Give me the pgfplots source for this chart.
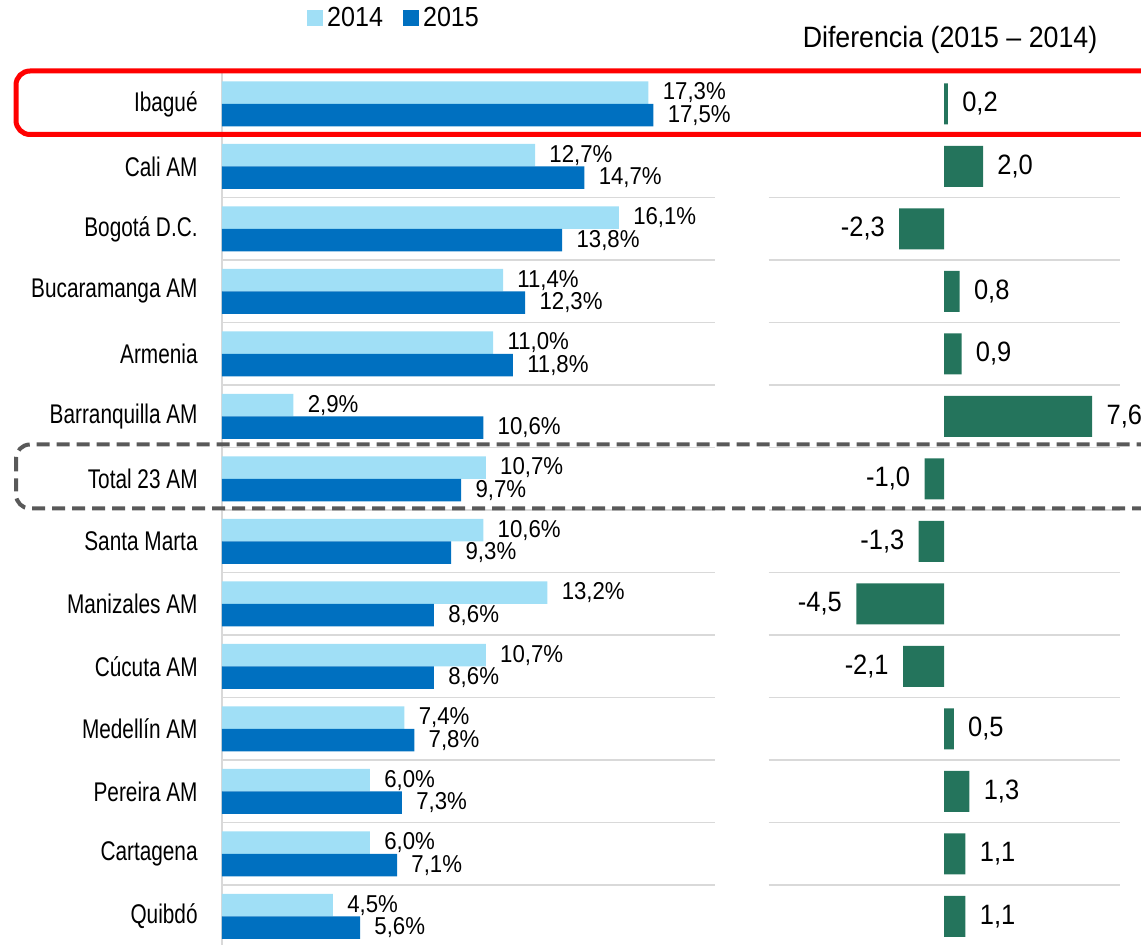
\documentclass[border=0pt]{standalone}
\usepackage{pgfplots}
\pgfplotsset{compat=1.18}
\usepackage{pgfplotstable}
\usepackage{fontspec}
\setmainfont{Liberation Sans}[FakeStretch=0.77]
\newfontfamily\numfont{Liberation Sans}[FakeStretch=0.91]
\definecolor{lb}{HTML}{A0DFF6}
\definecolor{db}{HTML}{0070C0}
\definecolor{gr}{HTML}{24745C}
\definecolor{gridgray}{HTML}{D9D9D9}
\definecolor{dgray}{HTML}{595959}
\newcommand{\fs}{\fontsize{13.5}{16}\selectfont}
\newcommand{\fsl}{\numfont\fontsize{12.2}{14}\selectfont}
\newcommand{\fsr}{\numfont\fontsize{14}{16}\selectfont}
\newcommand{\fst}{\numfont\fontsize{14.7}{17}\selectfont}
\newcommand{\fsg}{\numfont\fontsize{13.8}{16}\selectfont}
\pgfplotstableread{
idx v14 v15
0 17.3 17.5
1 12.7 14.7
2 16.1 13.8
3 11.4 12.3
4 11.0 11.8
5 2.9 10.6
6 10.7 9.7
7 10.6 9.3
8 13.2 8.6
9 10.7 8.6
10 7.4 7.8
11 6.0 7.3
12 6.0 7.1
13 4.5 5.6
}\leftdata
\begin{document}
\begin{tikzpicture}
\begin{axis}[
  at={(111pt,-36.35pt)}, anchor=north west,
  scale only axis, width=246.5pt, height=437.5pt,
  xmin=0, xmax=20, ymin=-0.5, ymax=13.5, y dir=reverse,
  xbar, bar width=11.25pt, bar shift=0pt,
  axis x line=none,
  axis y line*=left,
  y axis line style={draw=gridgray, line width=0.75pt, -},
  ytick={0,...,13},
  yticklabels={Ibagué, Cali AM, Bogotá D.C., Bucaramanga AM, Armenia, Barranquilla AM, Total 23 AM, Santa Marta, Manizales AM, Cúcuta AM, Medellín AM, Pereira AM, Cartagena, Quibdó},
  major tick length=0pt, minor tick length=0pt,
  yticklabel style={font=\fs, inner sep=0pt, xshift=-12pt, text=black},
  minor ytick={0.5,1.5,...,12.5}, yminorgrids=true,
  minor grid style={gridgray, line width=0.75pt},
  point meta=x,
  nodes near coords={\pgfmathprintnumber[fixed,fixed zerofill,precision=1,use comma,assume math mode=true]{\pgfplotspointmeta}\%},
  every node near coord/.append style={anchor=west, inner sep=0pt, xshift=7pt, font=\fsl, text=black},
  legend style={at={(0.351,1.0625)}, anchor=center, draw=none, fill=none, legend columns=2, font=\fsg, inner sep=0pt,
    /tikz/every even column/.append style={column sep=8pt}},
  legend image code/.code={\fill[#1] (0pt,-4pt) rectangle (8pt,4pt);},
]
\addplot[fill=lb, draw=none] table[x=v14, y expr=\thisrow{idx}-0.18] \leftdata;
\addplot[fill=db, draw=none] table[x=v15, y expr=\thisrow{idx}+0.18] \leftdata;
\legend{2014,2015}
\end{axis}
\begin{axis}[
  at={(384.25pt,-36.35pt)}, anchor=north west,
  scale only axis, width=175.5pt, height=437.5pt,
  xmin=-9, xmax=9, ymin=-0.5, ymax=13.5, y dir=reverse,
  xbar, bar width=20.5pt, bar shift=0pt,
  axis line style={draw=none},
  xtick=\empty,
  ytick={0.5,1.5,...,12.5}, yticklabels={},
  major tick length=0pt,
  ymajorgrids=true,
  major grid style={gridgray, line width=0.75pt},
  point meta=x,
  nodes near coords={\pgfmathprintnumber[fixed,fixed zerofill,precision=1,use comma,assume math mode=true]{\pgfplotspointmeta}},
  every node near coord/.append style={inner sep=0pt, font=\fsr, text=black},
]
\addplot[fill=gr, draw=none, every node near coord/.append style={anchor=west, xshift=7pt}] coordinates {
  (0.2,0) (2.0,1) (0.8,3) (0.9,4) (7.6,5) (0.5,10) (1.3,11) (1.1,12) (1.1,13)};
\addplot[fill=gr, draw=none, every node near coord/.append style={anchor=east, xshift=-7pt}] coordinates {
  (-2.3,2) (-1.0,6) (-1.3,7) (-4.5,8) (-2.1,9)};
\end{axis}
\node[font=\fst, text=black] at (475pt,-20pt) {Diferencia (2015 \textendash\ 2014)};
\draw[red, line width=2.5pt, rounded corners=7pt] (8pt,-35.5pt) rectangle (587.5pt,-67.25pt);
\draw[dgray, line width=2pt, dash pattern=on 6.5pt off 3.5pt, rounded corners=7pt] (8pt,-222.25pt) rectangle (587.5pt,-254.25pt);
\pgfresetboundingbox
\path[use as bounding box] (0pt,0pt) rectangle (570.5pt,-472.5pt);
\end{tikzpicture}
\end{document}
